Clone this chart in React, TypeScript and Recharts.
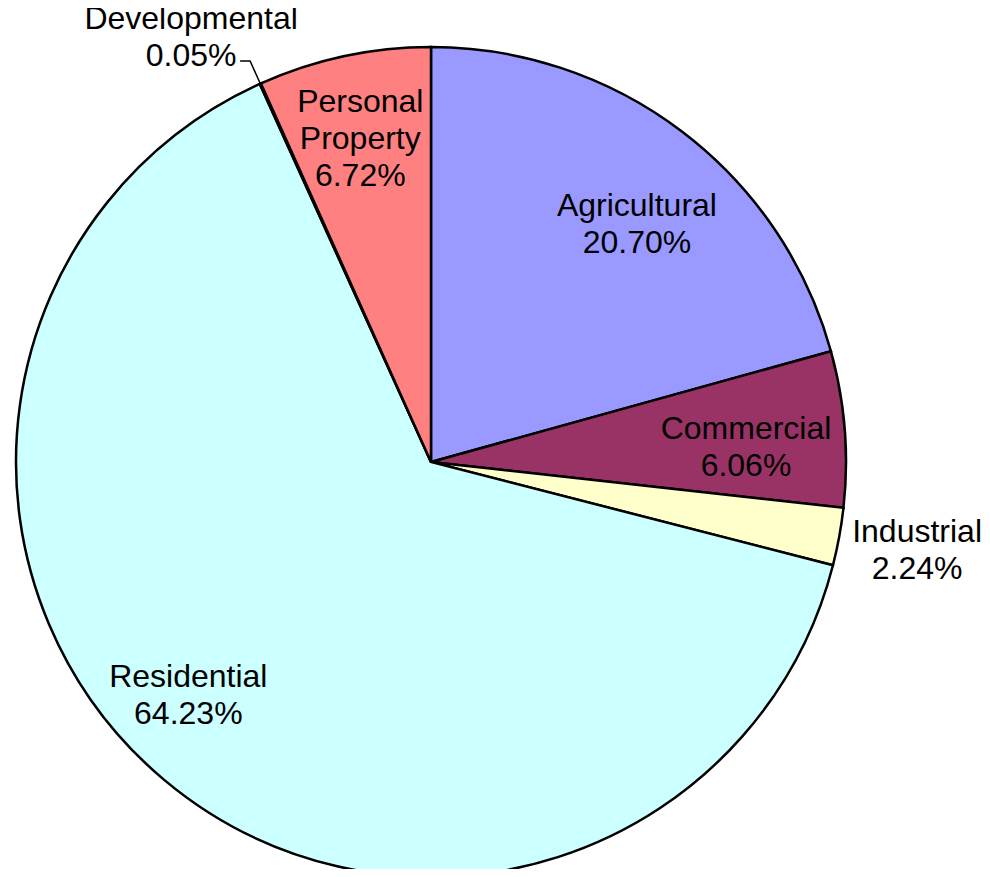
import { PieChart, Pie, Cell } from 'recharts';

const categories = ['Agricultural', 'Commercial', 'Industrial', 'Residential', 'Developmental', 'Personal Property'];
const shares = [20.7, 6.06, 2.24, 64.23, 0.05, 6.72];
const colors = ['#9999FF', '#993366', '#FFFFCC', '#CCFFFF', '#660066', '#FF8080'];

// label placement: fraction of radius + angle tweak (deg) from slice middle
const labelLayout: Record<string, { rf: number; da: number; lines: string[] }> = {
  Agricultural: { rf: 0.76, da: -3.5, lines: ['Agricultural'] },
  Commercial: { rf: 0.76, da: -1.7, lines: ['Commercial'] },
  Industrial: { rf: 1.19, da: 0.2, lines: ['Industrial'] },
  Residential: { rf: 0.81, da: -6.2, lines: ['Residential'] },
  Developmental: { rf: 1.178, da: 5.1, lines: ['Developmental'] },
  'Personal Property': { rf: 0.8, da: 0.2, lines: ['Personal', 'Property'] },
};

const data = categories.map((name, i) => ({ name, value: shares[i] }));

const RADIAN = Math.PI / 180;
const LINE_H = 37;

const renderLabel = (props: any) => {
  const { cx, cy, midAngle, outerRadius, name, value } = props;
  const cfg = labelLayout[name];
  const ang = (midAngle + cfg.da) * RADIAN;
  const r = outerRadius * cfg.rf;
  const x = cx + r * Math.cos(ang);
  const y = cy - r * Math.sin(ang);
  const lines = [...cfg.lines, value.toFixed(2) + '%'];
  const y0 = y - ((lines.length - 1) * LINE_H) / 2 + 11;

  let leader = null;
  if (name === 'Developmental') {
    const m = midAngle * RADIAN;
    const ex = cx + outerRadius * Math.cos(m);
    const ey = cy - outerRadius * Math.sin(m);
    const kx = cx + outerRadius * 1.06 * Math.cos(m);
    const ky = cy - outerRadius * 1.06 * Math.sin(m);
    leader = (
      <polyline
        points={`${ex},${ey} ${kx},${ky} ${kx - 10},${ky}`}
        fill="none"
        stroke="#000"
        strokeWidth={1.5}
      />
    );
  }

  return (
    <g>
      {leader}
      <text
        x={x}
        y={y0}
        textAnchor="middle"
        fill="#000"
        fontSize={32}
        fontFamily="'Liberation Sans', Arial, sans-serif"
      >
        {lines.map((t, i) => (
          <tspan key={i} x={x} y={y0 + i * LINE_H}>
            {t}
          </tspan>
        ))}
      </text>
    </g>
  );
};

export default function App() {
  return (
    <div style={{ margin: -8, width: 990, height: 877, background: '#fff' }}>
      <PieChart width={990} height={877} margin={{ top: 0, right: 0, bottom: 0, left: 0 }}>
        <Pie
          data={data}
          dataKey="value"
          nameKey="name"
          cx={431}
          cy={462}
          outerRadius={415}
          startAngle={90}
          endAngle={-270}
          stroke="#000"
          strokeWidth={2.5}
          label={renderLabel}
          labelLine={false}
          isAnimationActive={false}
        >
          {data.map((d, i) => (
            <Cell key={d.name} fill={colors[i]} />
          ))}
        </Pie>
      </PieChart>
    </div>
  );
}
